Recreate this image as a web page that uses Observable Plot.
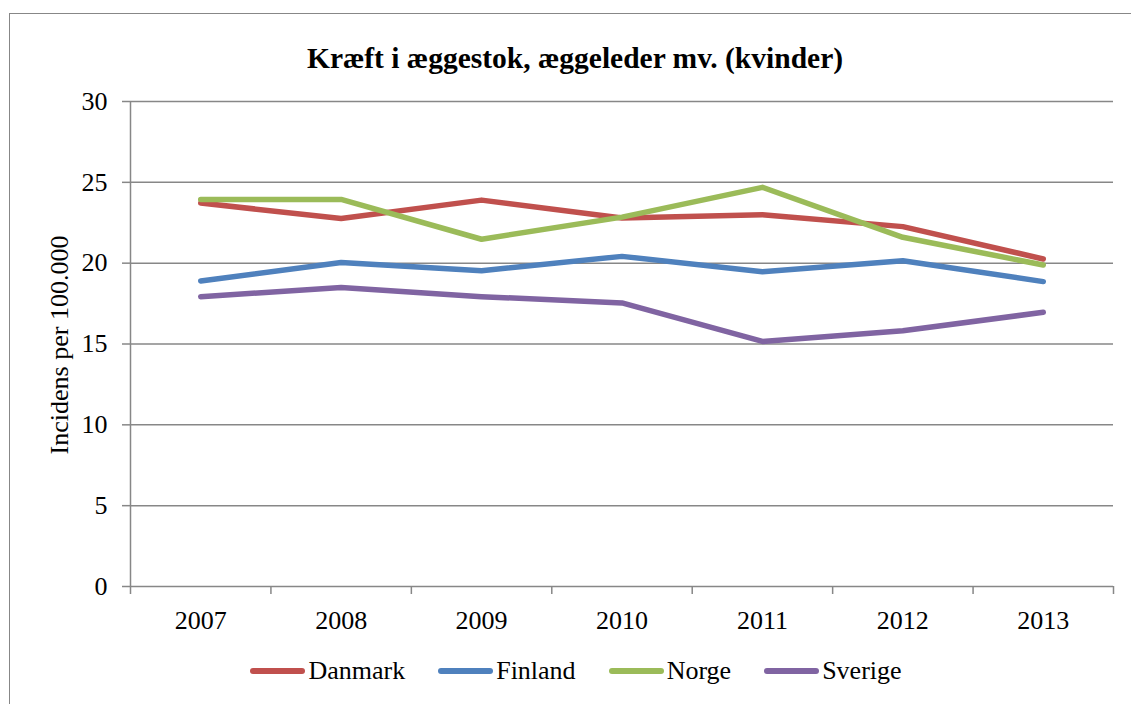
<!DOCTYPE html>
<html>
<head>
<meta charset="utf-8">
<script src="https://cdn.jsdelivr.net/npm/d3@7"></script>
<script src="https://cdn.jsdelivr.net/npm/@observablehq/plot@0.6"></script>
<style>
  body { margin: 0; background: #fff; }
  #wrap { position: relative; width: 1131px; height: 704px; overflow: hidden; font-family: "Liberation Serif", "Times New Roman", serif; color: #000; }
  #border { position: absolute; left: 9px; top: 13px; width: 1200px; height: 800px; border: 1.5px solid #878787; box-sizing: border-box; }
  #chart { position: absolute; left: 0; top: 0; }
  #chart svg text { font-family: "Liberation Serif", "Times New Roman", serif; }
  #title { position: absolute; left: 0; width: 1150px; top: 43px; text-align: center; font-weight: bold; font-size: 29.5px; line-height: 30px; white-space: nowrap; }
  #ylabel { position: absolute; left: 60px; top: 345px; transform: translate(-50%, -50%) rotate(-90deg); font-size: 26px; white-space: nowrap; line-height: 30px; }
  #legend { position: absolute; left: 0; width: 1152px; top: 656px; height: 30px; display: flex; justify-content: center; align-items: center; gap: 33px; font-size: 26px; line-height: 30px; }
  .item { display: flex; align-items: center; gap: 3px; }
  .sw { width: 55px; height: 6px; border-radius: 3px; }
</style>
</head>
<body>
<div id="wrap">
  <div id="border"></div>
  <div id="chart"></div>
  <div id="title"></div>
  <div id="ylabel"></div>
  <div id="legend"></div>
</div>
<script>
const title = "Kræft i æggestok, æggeleder mv. (kvinder)";
const yLabel = "Incidens per 100.000";
const years = [2007, 2008, 2009, 2010, 2011, 2012, 2013];
const series = ["Danmark", "Finland", "Norge", "Sverige"];
const colors = ["#C0504D", "#4F81BD", "#9BBB59", "#8064A2"];
const danmark = [23.72, 22.76, 23.90, 22.80, 23.00, 22.26, 20.26];
const finland = [18.90, 20.04, 19.53, 20.42, 19.47, 20.15, 18.86];
const norge   = [23.94, 23.94, 21.48, 22.85, 24.69, 21.60, 19.89];
const sverige = [17.93, 18.49, 17.93, 17.54, 15.16, 15.82, 16.96];
const yTicks = [0, 5, 10, 15, 20, 25, 30];

const valuesBySeries = [danmark, finland, norge, sverige];
const rows = series.flatMap((s, i) => years.map((yr, j) => ({series: s, year: yr, value: valuesBySeries[i][j]})));
const xDomain = [years[0] - 0.5, years[years.length - 1] + 0.5];
const boundaries = years.map(y => y - 0.5).concat([years[years.length - 1] + 0.5]);
const gray = "#878787";
const serif = '"Liberation Serif", "Times New Roman", serif';

const chart = Plot.plot({
  width: 1131,
  height: 704,
  marginTop: 101,
  marginBottom: 118,
  marginLeft: 130,
  marginRight: 18,
  style: {fontFamily: serif, background: "transparent", color: "#000", overflow: "visible"},
  x: {type: "linear", domain: xDomain},
  y: {domain: [yTicks[0], yTicks[yTicks.length - 1]]},
  color: {domain: series, range: colors},
  marks: [
    Plot.gridY(yTicks.slice(1), {stroke: gray, strokeOpacity: 1, strokeWidth: 1.5}),
    Plot.ruleY([yTicks[0]], {stroke: gray, strokeWidth: 1.5}),
    Plot.ruleX([xDomain[0]], {stroke: gray, strokeWidth: 1.5}),
    Plot.axisY({ticks: yTicks, tickSize: 8, tickPadding: 15, label: null, fontSize: 26, fontFamily: serif, stroke: gray, strokeWidth: 1.5, fill: "#000", tickFormat: d => String(d)}),
    Plot.axisX({ticks: boundaries, tickSize: 8, tickFormat: () => "", label: null, stroke: gray, strokeWidth: 1.5}),
    Plot.axisX({ticks: years, tickSize: 0, tickPadding: 24, tickFormat: d => String(d), label: null, fontSize: 26, fontFamily: serif, fill: "#000"}),
    Plot.line(rows, {x: "year", y: "value", z: "series", stroke: "series", strokeWidth: 5.5, strokeLinecap: "round", strokeLinejoin: "round"})
  ]
});
d3.select(chart).selectAll("text").style("font-family", serif).style("font-variant", "normal");
document.getElementById("chart").appendChild(chart);
document.getElementById("title").textContent = title;
document.getElementById("ylabel").textContent = yLabel;
const legend = document.getElementById("legend");
series.forEach((s, i) => {
  const item = document.createElement("div");
  item.className = "item";
  const sw = document.createElement("div");
  sw.className = "sw";
  sw.style.background = colors[i];
  const t = document.createElement("span");
  t.textContent = s;
  item.appendChild(sw);
  item.appendChild(t);
  legend.appendChild(item);
});
</script>
</body>
</html>
